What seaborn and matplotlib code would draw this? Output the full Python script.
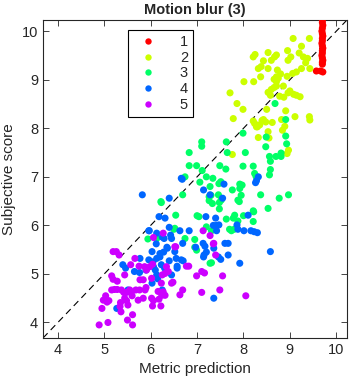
import pandas as pd
import seaborn as sns
import matplotlib.pyplot as plt

# values, one x/y list per distortion level
g1_x = [9.70, 9.70, 9.71, 9.70, 9.69, 9.70, 9.71, 9.70, 9.70, 9.69, 9.70, 9.71, 9.70, 9.70,
        9.69, 9.70, 9.71, 9.70, 9.70, 9.57, 9.66, 9.71]
g1_y = [10.23, 10.18, 10.12, 10.06, 10.00, 9.95, 9.90, 9.85, 9.80, 9.75, 9.70, 9.65, 9.60, 9.55,
        9.50, 9.45, 9.40, 9.36, 9.32, 9.18, 9.18, 9.16]

g2_x = [7.71, 7.86, 7.99, 7.78, 8.01, 8.25, 8.21, 8.53, 8.43, 8.32, 8.37, 8.53, 8.60, 8.71,
        8.67, 8.73, 8.71, 8.80, 8.94, 9.02, 8.96, 9.07, 9.42, 9.25, 9.29, 9.34, 9.38, 9.06,
        9.14, 9.25, 9.43, 8.22, 8.71, 8.60, 8.66, 8.71, 8.86, 8.96, 9.00, 9.08, 9.22, 9.14,
        8.87, 8.58, 8.53, 8.78, 8.50, 8.91, 9.11, 9.42, 8.43, 8.48, 8.82, 8.21, 8.30, 8.35,
        8.62, 8.28, 8.53, 8.32, 8.55, 8.84, 7.76, 8.94, 8.97, 9.43, 8.40, 8.89, 8.24, 8.75,
        8.66, 9.20, 8.38, 8.95]
g2_y = [8.73, 8.51, 8.39, 8.20, 8.96, 9.52, 9.47, 9.56, 9.39, 9.23, 9.06, 9.23, 9.40, 9.51,
        9.47, 9.20, 9.06, 9.12, 9.07, 9.47, 9.40, 9.85, 9.85, 9.69, 9.47, 9.35, 9.44, 9.13,
        9.16, 9.23, 9.23, 8.96, 8.96, 8.80, 8.84, 8.87, 8.87, 8.73, 8.77, 8.70, 8.65, 8.68,
        8.64, 8.68, 8.74, 8.66, 8.39, 8.36, 8.24, 8.24, 8.18, 8.13, 8.18, 8.15, 8.03, 8.07,
        8.12, 8.03, 7.93, 7.81, 7.80, 7.96, 7.46, 7.48, 7.55, 8.17, 8.16, 8.04, 8.10, 9.03,
        9.01, 9.55, 9.27, 9.60]

g3_x = [7.10, 7.10, 6.83, 7.63, 7.65, 8.04, 7.99, 6.83, 6.99, 7.49, 7.62, 7.11, 7.20, 7.34,
        7.06, 6.74, 6.22, 6.69, 6.54, 6.13, 6.52, 6.74, 7.04, 7.20, 7.28, 7.26, 7.33, 7.30,
        7.46, 7.48, 7.26, 7.48, 7.63, 7.76, 7.88, 7.95, 7.92, 7.92, 7.97, 7.99, 8.21, 8.24,
        8.27, 8.37, 8.21, 8.21, 7.88, 7.80, 7.70, 8.53, 8.77, 8.97, 8.56, 8.70, 8.81, 8.81,
        8.58, 8.58, 8.56, 8.48, 8.93, 8.91, 8.49, 7.47, 7.51, 7.91, 7.81, 8.22, 8.00, 7.74,
        7.31, 7.31, 6.95, 6.99, 6.95, 6.50, 6.23, 5.94, 7.28, 8.68, 8.91, 7.52, 7.00, 7.78]
g3_y = [7.72, 7.63, 7.50, 7.72, 7.50, 7.50, 7.90, 7.23, 7.23, 7.23, 7.16, 7.13, 7.00, 6.97,
        6.89, 7.00, 6.49, 6.63, 6.21, 5.73, 5.94, 5.73, 6.18, 5.97, 6.80, 6.59, 6.45, 6.62,
        6.63, 6.34, 6.51, 6.47, 6.13, 6.73, 6.52, 6.62, 6.76, 6.85, 6.83, 7.22, 7.22, 7.07,
        7.01, 6.63, 6.30, 6.08, 6.09, 5.92, 5.92, 6.35, 6.56, 6.63, 7.42, 7.42, 7.42, 7.49,
        7.32, 7.15, 7.04, 7.62, 7.68, 7.84, 7.82, 6.86, 6.90, 6.49, 6.21, 6.28, 6.20, 5.89,
        5.89, 5.23, 5.71, 5.49, 5.55, 5.92, 6.47, 5.72, 5.22, 8.51, 8.18, 6.52, 6.20, 6.15]

g4_x = [5.82, 6.66, 6.68, 7.14, 7.28, 7.55, 7.58, 8.26, 8.28, 8.32, 6.40, 6.18, 6.31, 7.19,
        7.40, 7.35, 7.42, 7.47, 8.10, 7.86, 6.40, 5.97, 6.83, 7.88, 8.01, 8.16, 8.23, 8.30,
        6.43, 6.45, 6.25, 6.29, 6.36, 7.42, 6.63, 6.13, 6.69, 6.97, 7.13, 7.17, 7.15, 7.14,
        7.20, 7.36, 7.51, 7.46, 7.67, 7.67, 7.60, 7.92, 8.58, 7.36, 6.25, 6.13, 6.20, 6.23,
        6.05, 6.06, 6.52, 6.55, 6.66, 6.57, 6.57, 5.96, 5.40, 5.46, 5.77, 5.96, 6.03, 5.65,
        5.76, 5.90, 5.51, 5.27, 6.03, 6.13, 6.15, 6.40, 6.45, 6.20, 6.28, 6.35, 6.12, 6.70,
        6.10, 6.30]
g4_y = [6.63, 6.97, 6.95, 6.73, 6.63, 6.56, 6.85, 6.88, 6.92, 7.00, 6.56, 6.18, 6.15, 6.18,
        6.15, 6.00, 6.00, 6.01, 6.21, 6.01, 5.96, 5.89, 5.89, 5.92, 5.89, 5.89, 5.87, 5.85,
        5.80, 5.73, 5.76, 5.73, 5.53, 5.89, 5.89, 5.84, 5.63, 5.55, 5.63, 5.57, 5.39, 5.35,
        5.45, 5.53, 5.30, 5.35, 5.39, 5.63, 5.63, 5.22, 5.46, 4.50, 4.67, 5.32, 5.35, 5.19,
        5.25, 5.15, 5.46, 5.32, 5.29, 5.16, 5.12, 5.89, 5.19, 5.12, 5.32, 5.29, 5.46, 5.05,
        5.03, 5.08, 4.67, 4.29, 4.81, 4.98, 4.90, 5.27, 4.98, 5.42, 5.45, 5.55, 5.62, 5.27,
        5.08, 5.12]

g5_x = [4.89, 5.08, 4.95, 4.98, 5.03, 5.06, 5.10, 5.16, 5.22, 5.28, 5.19, 5.16, 5.28, 5.19,
        5.26, 5.32, 5.44, 5.37, 5.42, 5.48, 5.35, 5.34, 5.36, 5.44, 5.48, 5.51, 5.55, 5.58,
        5.60, 5.50, 5.61, 5.61, 5.68, 5.73, 5.77, 5.76, 5.84, 5.88, 5.57, 5.66, 5.75, 5.84,
        5.91, 5.87, 5.98, 6.04, 6.02, 6.02, 6.06, 6.04, 6.16, 6.18, 6.22, 6.24, 6.31, 6.27,
        6.23, 6.31, 6.38, 6.34, 6.45, 6.48, 6.54, 6.69, 6.63, 6.77, 6.82, 6.99, 7.10, 7.16,
        7.10, 7.35, 7.40, 7.55, 7.49, 8.05, 6.27, 6.06, 7.13, 7.28, 7.36, 6.52, 6.25, 5.90]
g5_y = [3.95, 4.00, 4.29, 4.46, 4.55, 4.42, 4.45, 4.67, 4.68, 4.68, 4.89, 4.96, 4.85, 5.46,
        5.46, 5.39, 4.98, 4.67, 4.62, 4.62, 4.41, 4.33, 4.22, 4.50, 4.45, 4.36, 4.67, 4.62,
        4.55, 4.05, 3.95, 4.16, 4.67, 4.46, 4.88, 4.67, 4.50, 4.67, 5.19, 5.32, 5.16, 4.88,
        5.08, 5.15, 5.15, 5.20, 4.91, 4.50, 4.45, 4.34, 4.64, 4.48, 4.34, 4.56, 4.56, 4.63,
        4.81, 5.01, 5.05, 5.15, 4.81, 4.83, 5.56, 4.67, 4.57, 5.16, 5.16, 4.96, 5.05, 5.02,
        4.62, 5.62, 5.39, 4.96, 4.67, 4.55, 5.84, 5.75, 5.89, 5.79, 5.63, 5.56, 4.98, 4.72]

levels = ['1', '2', '3', '4', '5']
colors = ['#ff0000', '#ccff00', '#00ff66', '#0066ff', '#cc00ff']

xs = [g1_x, g2_x, g3_x, g4_x, g5_x]
ys = [g1_y, g2_y, g3_y, g4_y, g5_y]
df = pd.DataFrame({
    'Metric prediction': [v for g in xs for v in g],
    'Subjective score': [v for g in ys for v in g],
    'Level': [lvl for lvl, g in zip(levels, xs) for _ in g],
})

sns.set_style('ticks')
plt.rcParams['font.family'] = ['Liberation Sans', 'DejaVu Sans']

fig = plt.figure(figsize=(3.51, 3.85), dpi=100)
ax = fig.add_axes([0.1225, 0.122, 0.866, 0.826])

sns.scatterplot(data=df, x='Metric prediction', y='Subjective score', hue='Level',
                hue_order=levels, palette=colors, s=26, linewidth=0, ax=ax, zorder=3)

lo, hi = 3.68, 10.23
ax.axline((lo, lo), slope=1, color='black', linestyle=(0, (6, 4)), linewidth=0.8, zorder=2)
ax.set_xlim(lo, hi)
ax.set_ylim(lo, hi)
ax.set_xticks(range(4, 11))
ax.set_yticks(range(4, 11))

ax.tick_params(direction='in', top=True, right=True, length=4, width=0.6,
               labelsize=10.5, colors='#262626')
for sp in ax.spines.values():
    sp.set_visible(True)
    sp.set_color('#262626')
    sp.set_linewidth(0.8)

ax.set_xlabel('Metric prediction', fontsize=11, color='#262626')
ax.set_ylabel('Subjective score', fontsize=11, color='#262626')
ax.set_title('Motion blur (3)', fontsize=10.5, fontweight='bold', pad=4)

leg = ax.legend(loc='upper left', bbox_to_anchor=(0.28, 0.969), borderaxespad=0,
                title=None, fontsize=10.5, fancybox=False, framealpha=1, edgecolor='black',
                borderpad=0.35, labelspacing=0.12, handletextpad=1.2, markerscale=0.9)
leg.get_frame().set_linewidth(0.8)

fig.savefig('out.png', dpi=100)
